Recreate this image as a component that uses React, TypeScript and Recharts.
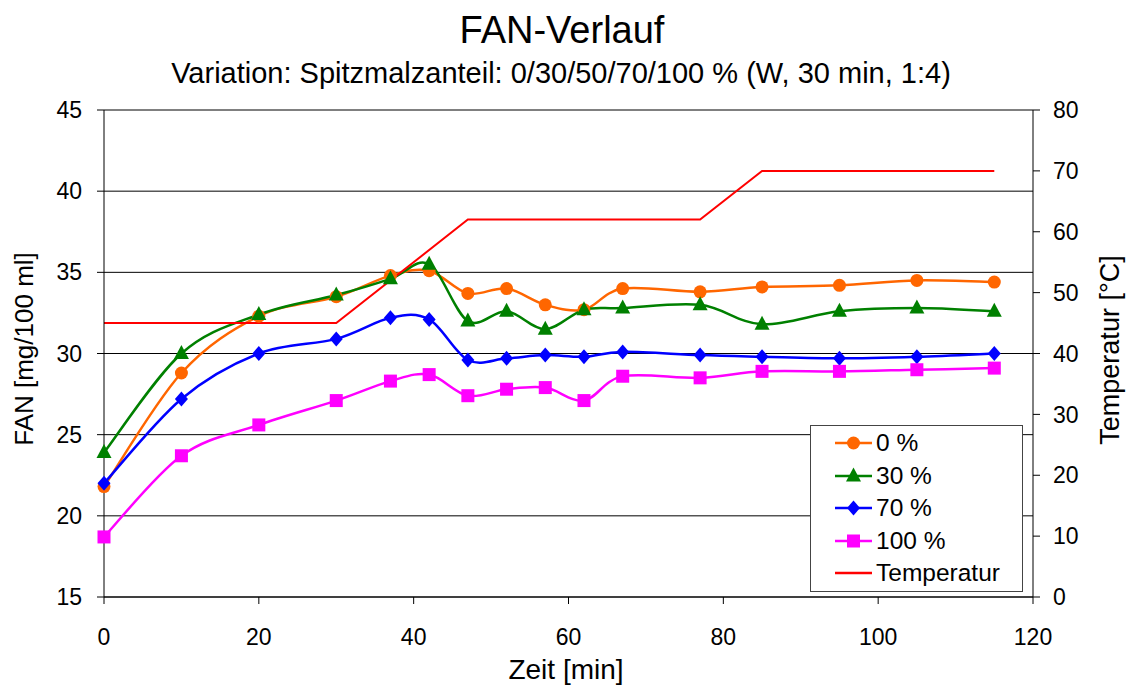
import { LineChart, Line, XAxis, YAxis, CartesianGrid } from 'recharts'

const FONT = '"Liberation Sans", Arial, sans-serif'

const zeit = [0, 10, 20, 30, 37, 42, 47, 52, 57, 62, 67, 77, 85, 95, 105, 115]
const fan0 = [21.8, 28.8, 32.3, 33.5, 34.8, 35.1, 33.7, 34.0, 33.0, 32.7, 34.0, 33.8, 34.1, 34.2, 34.5, 34.4]
const fan30 = [23.9, 30.0, 32.4, 33.6, 34.6, 35.5, 32.0, 32.6, 31.5, 32.7, 32.8, 33.0, 31.8, 32.6, 32.8, 32.6]
const fan70 = [22.0, 27.2, 30.0, 30.9, 32.2, 32.1, 29.6, 29.7, 29.9, 29.8, 30.1, 29.9, 29.8, 29.7, 29.8, 30.0]
const fan100 = [18.7, 23.7, 25.6, 27.1, 28.3, 28.7, 27.4, 27.8, 27.9, 27.1, 28.6, 28.5, 28.9, 28.9, 29.0, 29.1]
// temperature profile: only the corner points of the mash program
const temperatur = [45, null, null, 45, null, null, 62, null, null, null, null, 62, 70, null, null, 70]

const xTicks = [0, 20, 40, 60, 80, 100, 120]
const fanTicks = [15, 20, 25, 30, 35, 40, 45]
const tempTicks = [0, 10, 20, 30, 40, 50, 60, 70, 80]

const data = zeit.map((t, i) => ({
  zeit: t,
  fan0: fan0[i],
  fan30: fan30[i],
  fan70: fan70[i],
  fan100: fan100[i],
  temperatur: temperatur[i],
}))

const C = { fan0: '#FF6600', fan30: '#008000', fan70: '#0000FF', fan100: '#FF00FF', temp: '#FF0000' }

// Excel-style smoothing: cardinal spline with control points at p1 + (p2 - p0) / 6
const smooth = (context: any) => {
  let pts: number[][] = []
  return {
    areaStart() {},
    areaEnd() {},
    lineStart() {
      pts = []
    },
    point(x: number, y: number) {
      pts.push([+x, +y])
    },
    lineEnd() {
      if (!pts.length) return
      context.moveTo(pts[0][0], pts[0][1])
      for (let i = 0; i < pts.length - 1; i++) {
        const p0 = pts[i - 1] || pts[i]
        const p1 = pts[i]
        const p2 = pts[i + 1]
        const p3 = pts[i + 2] || pts[i + 1]
        context.bezierCurveTo(
          p1[0] + (p2[0] - p0[0]) / 6,
          p1[1] + (p2[1] - p0[1]) / 6,
          p2[0] - (p3[0] - p1[0]) / 6,
          p2[1] - (p3[1] - p1[1]) / 6,
          p2[0],
          p2[1],
        )
      }
    },
  }
}

type Shape = 'circle' | 'triangle' | 'diamond' | 'square'

function Marker({ shape, cx, cy, color }: { shape: Shape; cx: number; cy: number; color: string }) {
  if (shape === 'circle') return <circle cx={cx} cy={cy} r={6.5} fill={color} />
  if (shape === 'triangle')
    return <polygon points={`${cx},${cy - 8.5} ${cx - 7.5},${cy + 5.5} ${cx + 7.5},${cy + 5.5}`} fill={color} />
  if (shape === 'diamond')
    return <polygon points={`${cx},${cy - 7.5} ${cx + 6.5},${cy} ${cx},${cy + 7.5} ${cx - 6.5},${cy}`} fill={color} />
  return <rect x={cx - 6.5} y={cy - 6.5} width={13} height={13} fill={color} />
}

const dotFor = (shape: Shape, color: string) => (props: any) => (
  <Marker key={`${shape}-${props.index}`} shape={shape} cx={props.cx} cy={props.cy} color={color} />
)

const legendItems: { label: string; color: string; shape?: Shape }[] = [
  { label: '0 %', color: C.fan0, shape: 'circle' },
  { label: '30 %', color: C.fan30, shape: 'triangle' },
  { label: '70 %', color: C.fan70, shape: 'diamond' },
  { label: '100 %', color: C.fan100, shape: 'square' },
  { label: 'Temperatur', color: C.temp },
]

const tickStyle = { fontSize: 23, fill: '#000', fontFamily: FONT }

export default function App() {
  return (
    <div style={{ position: 'absolute', left: 0, top: 0, width: 1132, height: 687, background: '#fff', fontFamily: FONT }}>
      <LineChart width={1132} height={687} data={data} margin={{ top: 110, right: 0, bottom: 0, left: 0 }}>
        <CartesianGrid vertical={false} stroke="#000" yAxisId="left" />
        <XAxis
          dataKey="zeit"
          type="number"
          domain={[0, 120]}
          ticks={xTicks}
          height={90}
          stroke="#000"
          tickSize={7}
          tickMargin={25}
          tick={tickStyle}
        />
        <YAxis
          yAxisId="left"
          domain={[15, 45]}
          ticks={fanTicks}
          width={104}
          stroke="#000"
          tickSize={7}
          tickMargin={15}
          tick={tickStyle}
        />
        <YAxis
          yAxisId="right"
          orientation="right"
          domain={[0, 80]}
          ticks={tempTicks}
          width={99}
          stroke="#000"
          tickSize={7}
          tickMargin={13}
          tick={tickStyle}
        />
        <Line yAxisId="left" dataKey="fan0" type={smooth as any} stroke={C.fan0} strokeWidth={2.5} dot={dotFor('circle', C.fan0)} isAnimationActive={false} />
        <Line yAxisId="left" dataKey="fan30" type={smooth as any} stroke={C.fan30} strokeWidth={2.5} dot={dotFor('triangle', C.fan30)} isAnimationActive={false} />
        <Line yAxisId="left" dataKey="fan70" type={smooth as any} stroke={C.fan70} strokeWidth={2.5} dot={dotFor('diamond', C.fan70)} isAnimationActive={false} />
        <Line yAxisId="left" dataKey="fan100" type={smooth as any} stroke={C.fan100} strokeWidth={2.5} dot={dotFor('square', C.fan100)} isAnimationActive={false} />
        <Line yAxisId="right" dataKey="temperatur" type="linear" stroke={C.temp} strokeWidth={2} dot={false} connectNulls isAnimationActive={false} />
      </LineChart>

      {/* titles and axis captions */}
      <svg width={1132} height={687} style={{ position: 'absolute', left: 0, top: 0, pointerEvents: 'none' }}>
        <text x={562} y={43} textAnchor="middle" fontSize={38} fontFamily={FONT} fill="#000">FAN-Verlauf</text>
        <text x={561} y={83} textAnchor="middle" fontSize={29} fontFamily={FONT} fill="#000">
          Variation: Spitzmalzanteil: 0/30/50/70/100 % (W, 30 min, 1:4)
        </text>
        <text x={566} y={679} textAnchor="middle" fontSize={28} fontFamily={FONT} fill="#000">Zeit [min]</text>
        <text transform="translate(33,349) rotate(-90)" textAnchor="middle" fontSize={26} fontFamily={FONT} fill="#000">
          FAN [mg/100 ml]
        </text>
        <text transform="translate(1119,350) rotate(-90)" textAnchor="middle" fontSize={27} fontFamily={FONT} fill="#000">
          Temperatur [°C]
        </text>
      </svg>

      {/* legend box */}
      <div
        style={{
          position: 'absolute',
          left: 810,
          top: 425,
          width: 211,
          height: 165,
          border: '1px solid #444',
          background: '#fff',
        }}
      >
        {legendItems.map((item, i) => (
          <div key={item.label} style={{ position: 'absolute', left: 0, top: 1 + i * 32.5, height: 32, display: 'flex', alignItems: 'center' }}>
            <svg width={70} height={32} style={{ display: 'block' }}>
              <line x1={24} x2={61} y1={16} y2={16} stroke={item.color} strokeWidth={2.5} />
              {item.shape && <Marker shape={item.shape} cx={42.5} cy={16} color={item.color} />}
            </svg>
            <span style={{ fontSize: 24.5, color: '#000', marginLeft: -5 }}>{item.label}</span>
          </div>
        ))}
      </div>
    </div>
  )
}
